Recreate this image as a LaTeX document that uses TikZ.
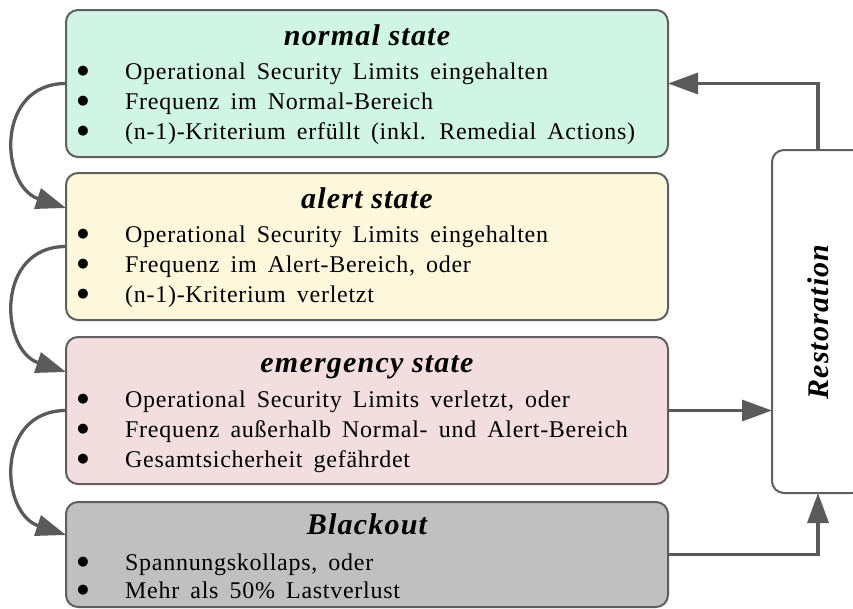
\documentclass[tikz,border=0pt]{standalone}
\usepackage{fontspec}
\setmainfont{Liberation Serif}[LetterSpace=3,WordSpace=1.65]
\newfontfamily\titlefam{Liberation Serif}[LetterSpace=4]
\newfontfamily\bulfam{DejaVu Sans}
\usetikzlibrary{arrows.meta,calc}
\definecolor{bordergray}{HTML}{5F5F5F}
\definecolor{arrowgray}{HTML}{5A5A5A}
\definecolor{normalfill}{HTML}{D1F5E4}
\definecolor{alertfill}{HTML}{FDF8DC}
\definecolor{emergfill}{HTML}{F2DEDE}
\definecolor{blackfill}{HTML}{C0C0C0}
\newcommand\bodyfnt{\fontsize{24}{28}\selectfont}
\newcommand\bulfnt{\bulfam\fontsize{13}{13}\selectfont}
\newcommand\titlefnt{\titlefam\fontsize{30}{34}\selectfont\bfseries\itshape}
\begin{document}
\begin{tikzpicture}[x=1pt,y=-1pt,
  statebox/.style={draw=bordergray, line width=2pt, rounded corners=12pt, outer sep=0pt, inner sep=0pt, anchor=north west, minimum width=602pt},
  arr/.style={draw=arrowgray, line width=3.3pt, -{Triangle[length=30pt,width=21pt]}},
  itemtext/.style={anchor=base west, inner sep=0pt, font=\bodyfnt},
  bul/.style={anchor=base, inner sep=0pt, font=\bulfnt},
  stitle/.style={anchor=base, inner sep=0pt, font=\titlefnt}]
\useasboundingbox (0,0) rectangle (853,608);
% boxes
\node[statebox, fill=normalfill, minimum height=147pt] (normal) at (66,10) {};
\node[statebox, fill=alertfill, minimum height=147pt] (alert) at (66,173) {};
\node[statebox, fill=emergfill, minimum height=147pt] (emerg) at (66,337) {};
\node[statebox, fill=blackfill, minimum height=105pt] (black) at (66,502) {};
\node[draw=bordergray, line width=2pt, rounded corners=12pt, outer sep=0pt, inner sep=0pt, fill=white, minimum width=92pt, minimum height=343pt] (rest) at (818,321.5) {};
\node[rotate=90, inner sep=0pt, font=\titlefnt] (resttext) at (818,322) {Restoration};
% normal
\node[stitle] (t1) at (367,45) {normal state};
\node[bul] (b11) at (83,74) {●};
\node[itemtext] (i11) at (125,79) {Operational Security Limits eingehalten};
\node[bul] (b12) at (83,104) {●};
\node[itemtext] (i12) at (125,109) {Frequenz im Normal-Bereich};
\node[bul] (b13) at (83,134) {●};
\node[itemtext] (i13) at (125,139) {(n-1)-Kriterium erfüllt (inkl. Remedial Actions)};
% alert
\node[stitle] (t2) at (367,208) {alert state};
\node[bul] (b21) at (83,237) {●};
\node[itemtext] (i21) at (125,242) {Operational Security Limits eingehalten};
\node[bul] (b22) at (83,267) {●};
\node[itemtext] (i22) at (125,272) {Frequenz im Alert-Bereich, oder};
\node[bul] (b23) at (83,297) {●};
\node[itemtext] (i23) at (125,302) {(n-1)-Kriterium verletzt};
% emergency
\node[stitle] (t3) at (367,372) {emergency state};
\node[bul] (b31) at (83,402) {●};
\node[itemtext] (i31) at (125,407) {Operational Security Limits verletzt, oder};
\node[bul] (b32) at (83,432) {●};
\node[itemtext] (i32) at (125,437) {Frequenz außerhalb Normal- und Alert-Bereich};
\node[bul] (b33) at (83,462) {●};
\node[itemtext] (i33) at (125,467) {Gesamtsicherheit gefährdet};
% blackout
\node[stitle] (t4) at (367,534) {Blackout};
\node[bul] (b41) at (83,565) {●};
\node[itemtext] (i41) at (125,570) {Spannungskollaps, oder};
\node[bul] (b42) at (83,593) {●};
\node[itemtext] (i42) at (125,598) {Mehr als 50\% Lastverlust};
% tip coordinates
\coordinate (alertin) at ($(alert.north west)+(0,35)$);
\coordinate (emergin) at ($(emerg.north west)+(0,35)$);
\coordinate (blackin) at ($(black.north west)+(0,33)$);
% curved arrows
\draw[arr] (normal.west) .. controls ($(normal.west)+(-71,0)$) and ($(alertin)+(-66,-22)$) .. (alertin);
\draw[arr] (alert.west) .. controls ($(alert.west)+(-71,0)$) and ($(emergin)+(-66,-22)$) .. (emergin);
\draw[arr] (emerg.west) .. controls ($(emerg.west)+(-71,0)$) and ($(blackin)+(-66,-22)$) .. (blackin);
% straight arrows
\draw[arr] (rest.north) |- (normal.east);
\draw[arr] (emerg.east) -- (emerg.east -| rest.west);
\draw[arr] (black.east) -| (rest.south);
\end{tikzpicture}
\end{document}
